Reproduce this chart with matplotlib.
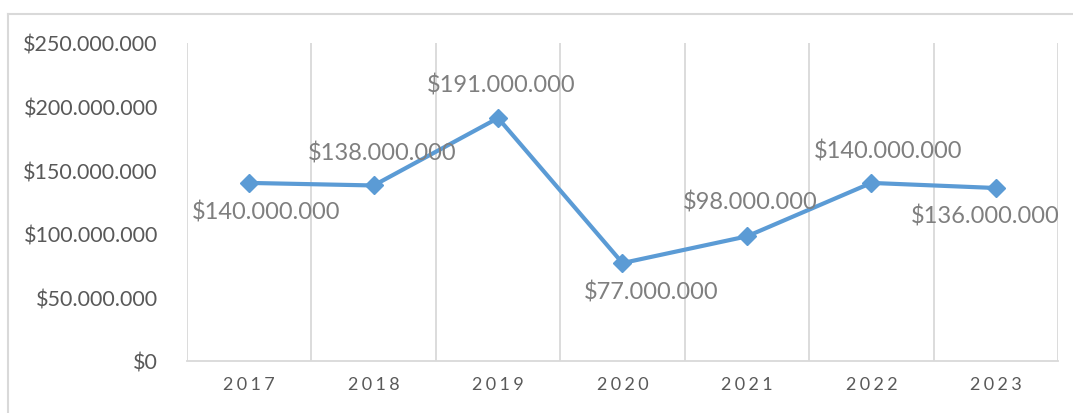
import matplotlib.pyplot as plt
from matplotlib.lines import Line2D
from matplotlib.ticker import FuncFormatter

years = ['2017', '2018', '2019', '2020', '2021', '2022', '2023']
values = [140000000, 138000000, 191000000, 77000000, 98000000, 140000000, 136000000]
# label offsets from the point, in pixels (x right, y up)
label_offsets = [(17, -29), (9, 33), (3, 34), (29, -28), (3, 35), (17, 32), (-11, -27)]

plt.rcParams['font.family'] = ['Lato', 'DejaVu Sans']

fig = plt.figure(figsize=(10.73, 4.14), dpi=100)
ax = fig.add_axes([187 / 1073, 1 - 362 / 414, (1058 - 187) / 1073, (362 - 44) / 414])

grid_c = '#D9D9D9'
x = list(range(len(years)))
ax.plot(x, values, color='#5B9BD5', linewidth=3.0, marker='D', markersize=9.5, zorder=3)

for i, v in enumerate(values):
    dx, dy = label_offsets[i]
    ax.annotate('$' + format(v, ',').replace(',', '.'), (i, v),
                xytext=(dx * 0.72, dy * 0.72), textcoords='offset points',
                ha='center', va='center', fontsize=17, color='#7F7F7F')

ax.set_xlim(-0.5, len(years) - 0.5)
ax.set_ylim(0, 250000000)
for b in range(len(years) + 1):
    ax.axvline(b - 0.5, color=grid_c, linewidth=1.3, zorder=1)

ax.set_xticks(x)
ax.set_xticklabels(['\u2009\u200a'.join(y) for y in years], fontsize=13, color='#595959')
ax.set_yticks(range(0, 250000001, 50000000))
ax.yaxis.set_major_formatter(FuncFormatter(lambda v, p: '$' + format(int(v), ',').replace(',', '.')))
ax.tick_params(axis='y', labelsize=15.5, labelcolor='#595959', length=0, pad=21)
ax.tick_params(axis='x', length=0, pad=11)

for s in ['top', 'right', 'left']:
    ax.spines[s].set_visible(False)
ax.spines['bottom'].set_color(grid_c)
ax.spines['bottom'].set_linewidth(1.3)

# outer chart border (top and left visible in the crop)
fig.add_artist(Line2D([8 / 1073, 1], [1 - 15 / 414, 1 - 15 / 414], color=grid_c, linewidth=1.5))
fig.add_artist(Line2D([8 / 1073, 8 / 1073], [0, 1 - 15 / 414], color=grid_c, linewidth=1.5))

fig.savefig('out.png', dpi=100)
